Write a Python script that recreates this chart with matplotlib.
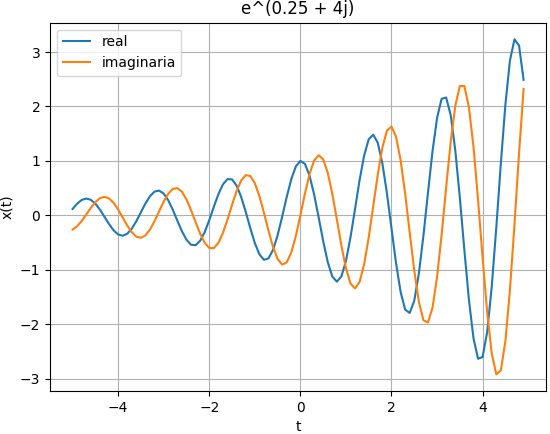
import numpy as np
import matplotlib.pyplot as plt

# muestras de t, de -5 a 4.9 con paso 0.1
t = np.round(np.arange(-50, 50) * 0.1, 1)

real = [0.1169, 0.2149, 0.2829, 0.3084, 0.2851, 0.2144, 0.1051, -0.0269, -0.1612, -0.2763,
        -0.3523, -0.3750, -0.3379, -0.2444, -0.1058, 0.0570, 0.2186, 0.3531, 0.4371, 0.4543,
        0.3986, 0.2752, 0.1009, -0.0991, -0.2931, -0.4493, -0.5404, -0.5485, -0.4682, -0.3074,
        -0.0884, 0.1563, 0.3879, 0.5684, 0.6657, 0.6599, 0.5466, 0.3384, 0.0648, -0.2336,
        -0.5097, -0.7161, -0.8173, -0.7910, -0.6347, -0.3673, -0.0264, 0.3362, 0.6627, 0.8983,
        1.0000, 0.9444, 0.7325, 0.3906, -0.0323, -0.4715, -0.8567, -1.1224, -1.2193, -1.1231,
        -0.8403, -0.4049, 0.1181, 0.6483, 1.1006, 1.3970, 1.4816, 1.3298, 0.9540, 0.4042,
        -0.2402, -0.8783, -1.4066, -1.7323, -1.7941, -1.5680, -1.0757, -0.3821, 0.4092, 1.1733,
        1.7864, 2.1406, 2.1650, 1.8389, 1.1968, 0.3281, -0.6398, -1.5545, -2.2596, -2.6357,
        -2.6032, -2.1460, -1.3168, -0.2307, 0.9488, 2.0339, 2.8444, 3.2341, 3.1183, 2.4895]

imaginaria = [-0.2616, -0.2004, -0.1034, 0.0153, 0.1376, 0.2438, 0.3159, 0.3402, 0.3105, 0.2289,
              0.1059, -0.0407, -0.1880, -0.3122, -0.3926, -0.4130, -0.3672, -0.2595, -0.1040, 0.0763,
              0.2535, 0.3985, 0.4862, 0.4995, 0.4319, 0.2910, 0.0958, -0.1256, -0.3371, -0.5055,
              -0.6000, -0.6019, -0.5061, -0.3230, -0.0781, 0.1920, 0.4448, 0.6383, 0.7380, 0.7228,
              0.5888, 0.3533, 0.0478, -0.2812, -0.5814, -0.8025, -0.9044, -0.8647, -0.6824, -0.3798,
              0.0000, 0.3993, 0.7542, 1.0047, 1.1047, 1.0303, 0.7847, 0.3990, -0.0713, -0.5540,
              -0.9708, -1.2527, -1.3447, -1.2228, -0.8958, -0.4066, 0.1739, 0.7558, 1.2447, 1.5564,
              1.6311, 1.4444, 1.0128, 0.3966, -0.3181, -1.0157, -1.5850, -1.9265, -1.9718, -1.6989,
              -1.1360, -0.3595, 0.5152, 1.3511, 2.0103, 2.3764, 2.3749, 1.9858, 1.2569, 0.2858,
              -0.7827, -1.7784, -2.5363, -2.9209, -2.8504, -2.3132, -1.3724, -0.1604, 1.1398, 2.3217]

fig = plt.figure(figsize=(5.5, 4.34), dpi=100)
plt.subplots_adjust(left=0.091, right=0.993, top=0.948, bottom=0.099)

plt.plot(t, real, label="real")
plt.plot(t, imaginaria, label="imaginaria")
plt.title("e^(0.25 + 4j)")
plt.xlabel("t")
plt.ylabel("x(t)")
plt.grid()
plt.legend()
plt.savefig("out.png")
